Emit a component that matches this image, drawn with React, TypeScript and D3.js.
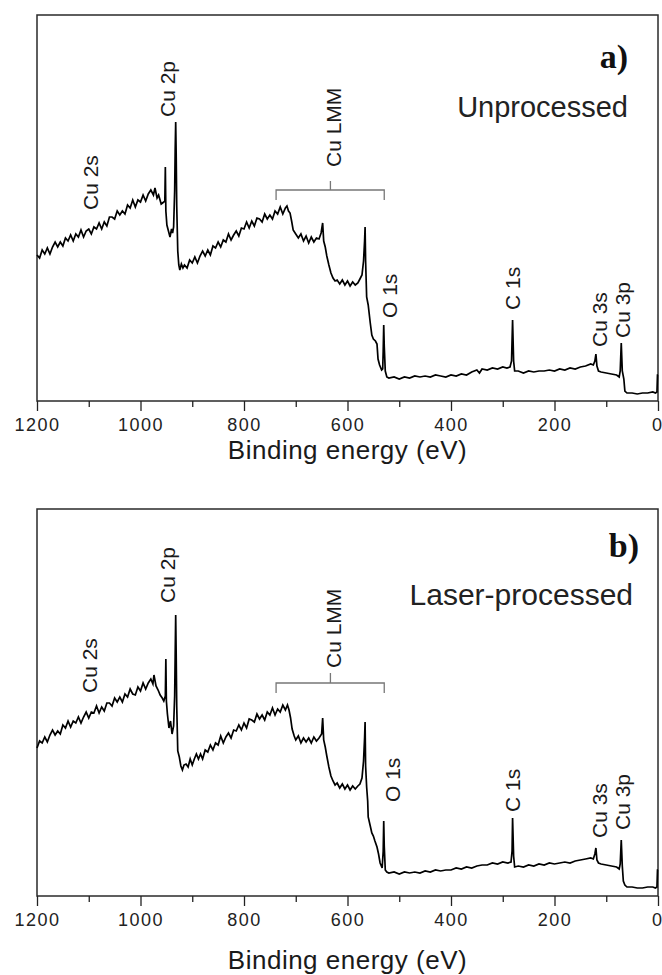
import React, { useEffect, useRef } from 'react';
import * as d3 from 'd3';

// ---------- data ----------
const majorTicks = [1200, 1000, 800, 600, 400, 200, 0];
const minorTicks = [1100, 900, 700, 500, 300, 100];
const xTitle = 'Binding energy (eV)';

// XPS survey spectrum, panel a (Unprocessed): [binding energy eV, intensity a.u.]
const spectrumA: [number, number][] = [
  [1200,146],[1195,143],[1190,151],[1185,147],[1180,153],[1175,147],[1170,154],[1165,159],[1160,154],[1155,159],
  [1150,155],[1145,163],[1140,160],[1135,166],[1130,160],[1125,167],[1120,164],[1115,171],[1110,164],[1105,170],
  [1100,172],[1095,167],[1090,174],[1085,172],[1080,178],[1075,172],[1070,179],[1065,175],[1060,184],[1055,184],
  [1050,182],[1045,190],[1040,186],[1035,190],[1030,187],[1025,196],[1020,193],[1015,201],[1010,194],[1005,201],
  [1000,199],[995,206],[990,200],[985,207],[980,211],[975,206],[972,213],[968,203],[965,206],[960,197],
  [955,199],[953,200],[952,234],[951,190],[949,176],[946,170],[943,164],[940,172],[938,168],[936,174],
  [934,210],[933,250],[932,279],[931,245],[930,195],[928,150],[926,136],[924,131],[921,137],[918,133],
  [915,136],[910,133],[905,141],[900,138],[895,144],[890,138],[885,145],[880,150],[875,145],[870,151],
  [865,146],[860,155],[855,153],[850,159],[845,154],[840,161],[835,159],[830,167],[825,161],[820,166],
  [815,170],[810,165],[805,173],[800,172],[795,179],[790,173],[785,180],[780,175],[775,183],[770,182],
  [765,179],[760,187],[755,182],[750,186],[745,182],[740,190],[735,187],[730,194],[725,187],[720,193],
  [717,195],[714,190],[711,188],[708,180],[705,171],[700,167],[695,163],[690,167],[685,160],[680,165],
  [675,158],[670,164],[665,159],[660,163],[655,162],[651,168],[648,178],[646,160],[643,154],[640,145],
  [636,136],[632,128],[628,123],[624,120],[620,121],[615,117],[610,121],[605,116],[600,120],[595,115],
  [590,119],[585,116],[580,118],[576,122],[572,126],[569,140],[567,160],[566,174],[565,140],[563,104],
  [560,96],[556,78],[553,66],[550,62],[546,60],[543,57],[541,42],[538,36],[534,31],[532,32],
  [531,50],[530,76],[529,55],[527,30],[524,24],[520,23],[510,24],[500,22],[490,24],[480,23],
  [470,25],[460,24],[450,25],[440,24],[430,26],[420,25],[410,24],[400,26],[390,25],[380,27],
  [370,26],[360,29],[350,31],[345,28],[340,32],[330,31],[320,33],[310,32],[300,34],[292,33],
  [286,34],[283,40],[281,81],[279,40],[277,30],[270,30],[260,28],[250,30],[240,29],[230,30],
  [220,30],[210,31],[200,30],[190,32],[180,31],[170,33],[160,32],[150,34],[140,35],[130,37],
  [125,36],[122,40],[120,47],[118,35],[115,30],[110,29],[100,28],[90,27],[80,26],[75,24],
  [73,30],[71,58],[69,30],[66,22],[64,10],[60,8],[50,8],[40,7],[30,8],[20,8],
  [10,9],[5,8],[2,9],[1,26],[0,26],
];

// panel b (Laser-processed)
const spectrumB: [number, number][] = [
  [1200,148],[1195,155],[1190,153],[1185,159],[1180,154],[1175,161],[1170,166],[1165,161],[1160,165],[1155,162],
  [1150,171],[1145,168],[1140,175],[1135,169],[1130,175],[1125,173],[1120,179],[1115,173],[1110,179],[1105,184],
  [1100,178],[1095,184],[1090,183],[1085,190],[1080,183],[1075,189],[1070,185],[1065,193],[1060,193],[1055,190],
  [1050,198],[1045,194],[1040,199],[1035,194],[1030,202],[1025,199],[1020,207],[1015,202],[1010,201],[1005,209],
  [1000,205],[995,213],[990,207],[985,213],[980,217],[976,212],[974,221],[970,210],[966,206],[962,201],
  [958,198],[955,195],[952,200],[951,237],[950,195],[948,182],[945,168],[942,175],[939,162],[936,170],
  [934,200],[933,240],[932,281],[931,240],[930,190],[928,145],[925,139],[922,130],[919,126],[916,131],
  [912,132],[908,129],[904,137],[900,131],[896,137],[892,142],[888,137],[884,142],[880,137],[875,146],
  [870,144],[865,151],[860,146],[855,153],[850,151],[845,160],[840,153],[835,159],[830,163],[825,158],
  [820,166],[815,165],[810,171],[805,166],[800,173],[795,168],[790,177],[785,176],[780,174],[775,182],
  [770,177],[765,181],[760,176],[755,184],[750,181],[745,188],[740,181],[735,187],[730,184],[725,191],
  [720,186],[716,191],[713,186],[710,178],[707,167],[703,160],[700,156],[695,160],[690,153],[685,158],
  [680,154],[675,158],[670,153],[665,159],[660,155],[655,158],[650,162],[648,178],[646,156],[643,149],
  [640,140],[636,129],[632,120],[628,115],[624,111],[620,113],[615,108],[610,112],[605,107],[600,111],
  [595,106],[590,110],[585,107],[580,110],[576,112],[572,118],[569,135],[567,158],[566,174],[565,130],
  [563,109],[561,95],[560,79],[556,70],[553,63],[550,60],[547,55],[543,49],[540,42],[537,33],
  [533,28],[531,45],[530,75],[529,50],[527,26],[524,24],[520,23],[510,24],[500,22],[490,24],
  [480,23],[470,24],[460,23],[450,25],[440,24],[430,26],[420,25],[410,26],[400,26],[390,28],
  [380,27],[370,29],[360,28],[350,30],[340,31],[330,31],[320,33],[310,32],[300,34],[290,33],
  [284,34],[282,45],[281,78],[279,40],[277,29],[270,30],[260,29],[250,31],[240,30],[230,32],
  [220,31],[210,33],[200,32],[190,33],[180,34],[170,33],[160,35],[150,36],[140,37],[130,38],
  [125,37],[122,42],[120,48],[118,36],[115,33],[110,32],[100,31],[90,30],[80,29],[75,27],
  [73,32],[71,56],[69,30],[67,15],[64,11],[60,9],[50,9],[40,8],[30,8],[20,9],
  [10,9],[5,8],[2,9],[1,26],[0,26],
];

const peakLabels = ['Cu 2s', 'Cu 2p', 'Cu LMM', 'O 1s', 'C 1s', 'Cu 3s', 'Cu 3p'];
const labelEnergiesA = [1096, 947, 628, 518, 282, 114, 68];
const labelEnergiesB = [1099, 947, 628, 514, 282, 114, 68];
const labelLevelsA = [191, 284, 234, 83, 91, 54, 63];
const labelLevelsB = [203, 293, 228, 94, 84, 58, 66];

// Cu LMM bracket: [start eV, centre eV, end eV], levels [ends, bar, top]
const lmmEnergies = [738, 633, 529];
const lmmLevelsA = [201, 211, 220];
const lmmLevelsB = [203, 213, 223];

const panelTags = ['a)', 'b)'];
const panelNames = ['Unprocessed', 'Laser-processed'];

// ---------- layout ----------
const W = 662;
const H = 975;
const LEFT = 37;
const RIGHT = 658;
const SANS = "'Liberation Sans', Arial, Helvetica, sans-serif";
const SERIF = "'Liberation Serif', 'Times New Roman', serif";

type PanelProps = {
  top: number;
  bottom: number;
  data: [number, number][];
  labelE: number[];
  labelL: number[];
  lmmL: number[];
  tag: string;
  name: string;
  tagX: number;
  tagY: number;
  nameX: number;
  nameY: number;
  nameSize: number;
  titleY: number;
};

function Panel(p: PanelProps) {
  const majorRef = useRef<SVGGElement>(null);
  const minorRef = useRef<SVGGElement>(null);
  const x = d3.scaleLinear().domain([1200, 0]).range([LEFT, RIGHT]);
  const y = d3.scaleLinear().domain([0, p.bottom - p.top]).range([p.bottom, p.top]);
  const line = d3
    .line<[number, number]>()
    .x((d) => x(d[0]))
    .y((d) => y(d[1]));

  useEffect(() => {
    if (majorRef.current) {
      const g = d3.select(majorRef.current);
      g.call(
        d3
          .axisBottom(x)
          .tickValues(majorTicks)
          .tickSize(10)
          .tickPadding(7)
          .tickFormat(d3.format('d') as any)
      );
      g.select('.domain').remove();
      g.selectAll('line').attr('stroke', '#222').attr('stroke-width', 1.3);
      g.selectAll('text')
        .attr('font-family', SANS)
        .attr('font-size', 18)
        .attr('letter-spacing', (d: any) => (d === 0 ? '0px' : '1.5px'))
        .attr('dx', (d: any) => (d === 0 ? '-1.5' : '0'))
        .attr('fill', '#222');
    }
    if (minorRef.current) {
      const g = d3.select(minorRef.current);
      g.call(d3.axisBottom(x).tickValues(minorTicks).tickSize(6).tickFormat(() => ''));
      g.select('.domain').remove();
      g.selectAll('line').attr('stroke', '#222').attr('stroke-width', 1.3);
    }
  });

  const [e0, ec, e1] = lmmEnergies;
  const [lEnd, lBar, lTop] = p.lmmL;
  const bracket = `M${x(e0)},${y(lEnd)} V${y(lBar)} H${x(e1)} V${y(lEnd)} M${x(ec)},${y(lBar)} V${y(lTop)}`;

  return (
    <g>
      <rect
        x={LEFT}
        y={p.top}
        width={RIGHT - LEFT}
        height={p.bottom - p.top}
        fill="none"
        stroke="#2a2a2a"
        strokeWidth={1.5}
      />
      <path d={line(p.data) || ''} fill="none" stroke="#000" strokeWidth={1.7} strokeLinejoin="miter" />
      <path d={bracket} fill="none" stroke="#777" strokeWidth={1.3} />
      {peakLabels.map((t, i) => (
        <text
          key={t}
          transform={`translate(${x(p.labelE[i])},${y(p.labelL[i])}) rotate(-90)`}
          dy="0.36em"
          fontFamily={SANS}
          fontSize={21}
          fill="#1a1a1a"
        >
          {t}
        </text>
      ))}
      <g ref={majorRef} transform={`translate(0,${p.bottom})`} />
      <g ref={minorRef} transform={`translate(0,${p.bottom})`} />
      <text
        x={(LEFT + RIGHT) / 2}
        y={p.titleY}
        textAnchor="middle"
        fontFamily={SANS}
        fontSize={26}
        letterSpacing="0.5px"
        fill="#1a1a1a"
      >
        {xTitle}
      </text>
      <text x={p.tagX} y={p.tagY} textAnchor="end" fontFamily={SERIF} fontWeight="bold" fontSize={34} fill="#111">
        {p.tag}
      </text>
      <text x={p.nameX} y={p.nameY} textAnchor="end" fontFamily={SANS} fontSize={p.nameSize} fill="#222">
        {p.name}
      </text>
    </g>
  );
}

export default function App() {
  return (
    <svg
      width={W}
      height={H}
      viewBox={`0 0 ${W} ${H}`}
      style={{ position: 'absolute', left: 0, top: 0, background: '#fff' }}
    >
      <rect x={0} y={0} width={W} height={H} fill="#fff" />
      <Panel
        top={15}
        bottom={401}
        data={spectrumA}
        labelE={labelEnergiesA}
        labelL={labelLevelsA}
        lmmL={lmmLevelsA}
        tag={panelTags[0]}
        name={panelNames[0]}
        tagX={628}
        tagY={68}
        nameX={628}
        nameY={117}
        nameSize={29}
        titleY={459}
      />
      <Panel
        top={509}
        bottom={896}
        data={spectrumB}
        labelE={labelEnergiesB}
        labelL={labelLevelsB}
        lmmL={lmmLevelsB}
        tag={panelTags[1]}
        name={panelNames[1]}
        tagX={639}
        tagY={557}
        nameX={633}
        nameY={605}
        nameSize={30}
        titleY={969}
      />
    </svg>
  );
}
